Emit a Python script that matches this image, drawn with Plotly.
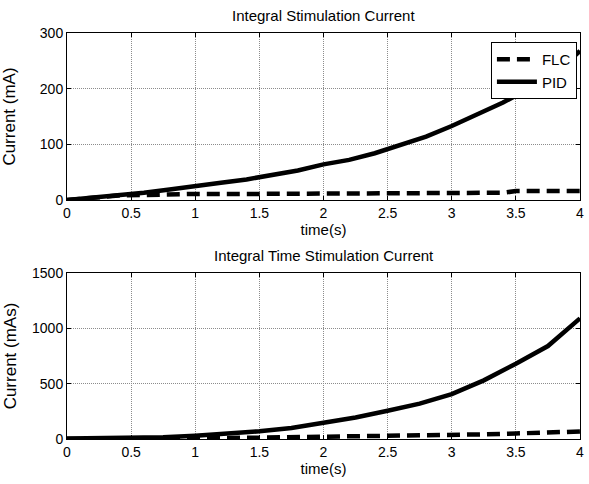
import plotly.graph_objects as go

t_top = [0, 0.2, 0.4, 0.6, 0.8, 1.0, 1.2, 1.4, 1.6, 1.8, 2.0, 2.2, 2.4, 2.6, 2.8, 3.0, 3.2, 3.4, 3.6, 3.8, 4.0]
pid_top = [0, 4, 10, 13, 19, 26, 31, 37, 45, 53, 64, 72, 84, 100, 114, 133, 153, 175, 200, 225, 268]
t_flc_top = [0, 0.2, 0.4, 0.6, 0.8, 1.0, 1.5, 2.0, 2.6, 2.7, 3.4, 3.5, 4.0]
flc_top = [0, 4, 8, 9, 10, 11, 11, 11, 11, 13, 13, 16, 16]

t_bot = [0, 0.25, 0.5, 0.75, 1.0, 1.25, 1.5, 1.75, 2.0, 2.25, 2.5, 2.75, 3.0, 3.25, 3.5, 3.75, 4.0]
pid_bot = [5, 5, 8, 15, 30, 45, 70, 100, 145, 195, 255, 320, 405, 530, 680, 840, 1090]
flc_bot = [0, 0, 2, 5, 8, 10, 12, 15, 18, 22, 26, 30, 36, 42, 50, 58, 68]

x_ticks = [0, 0.5, 1, 1.5, 2, 2.5, 3, 3.5, 4]
x_tick_text = ["0", "0.5", "1", "1.5", "2", "2.5", "3", "3.5", "4"]
y_top_ticks = [0, 100, 200, 300]
y_bot_ticks = [0, 500, 1000, 1500]

FONT = "Liberation Sans, Arial, sans-serif"
DASH = "13px,7px"
LW = 4.5

fig = go.Figure()
fig.add_trace(go.Scatter(x=t_flc_top, y=flc_top, mode="lines", name="FLC",
                         line=dict(color="black", width=LW, dash=DASH), xaxis="x", yaxis="y"))
fig.add_trace(go.Scatter(x=t_top, y=pid_top, mode="lines", name="PID",
                         line=dict(color="black", width=LW), xaxis="x", yaxis="y"))
fig.add_trace(go.Scatter(x=t_bot, y=flc_bot, mode="lines", name="FLC", showlegend=False,
                         line=dict(color="black", width=LW, dash=DASH), xaxis="x2", yaxis="y2"))
fig.add_trace(go.Scatter(x=t_bot, y=pid_bot, mode="lines", name="PID", showlegend=False,
                         line=dict(color="black", width=LW), xaxis="x2", yaxis="y2"))

axis_common = dict(showline=True, linecolor="black", linewidth=1, mirror="ticks",
                   ticks="inside", ticklen=4, tickcolor="black",
                   showgrid=True, gridcolor="#8c8c8c", griddash="1px,1px", gridwidth=1,
                   zeroline=False, tickfont=dict(family=FONT, size=14, color="black"))

top_dom = [(439 - 200) / 406, 1.0]
bot_dom = [0.0, (439 - 273) / 406]

xt = dict(text="time(s)", font=dict(family=FONT, size=15), standoff=1)

fig.update_layout(
    width=589, height=484,
    margin=dict(l=67, r=5, t=33, b=45),
    paper_bgcolor="white", plot_bgcolor="white",
    font=dict(family=FONT, size=14, color="black"),
    xaxis=dict(domain=[0, 1], range=[0, 4], tickvals=x_ticks, ticktext=x_tick_text, anchor="y",
               title=xt, **axis_common),
    yaxis=dict(domain=top_dom, range=[0, 300], tickvals=y_top_ticks, anchor="x",
               title=dict(text="Current (mA)", font=dict(family=FONT, size=17), standoff=21), **axis_common),
    xaxis2=dict(domain=[0, 1], range=[0, 4], tickvals=x_ticks, ticktext=x_tick_text, anchor="y2",
                title=xt, **axis_common),
    yaxis2=dict(domain=bot_dom, range=[0, 1500], tickvals=y_bot_ticks, anchor="x2",
                title=dict(text="Current (mAs)", font=dict(family=FONT, size=17), standoff=11), **axis_common),
    legend=dict(x=0.994, y=0.978, xanchor="right", yanchor="top",
                bgcolor="white", bordercolor="black", borderwidth=1,
                font=dict(family=FONT, size=15, color="black"), tracegroupgap=0,
                itemwidth=40),
    showlegend=True,
    annotations=[
        dict(text="Integral Stimulation Current", x=0.5, y=1.0, xref="paper", yref="paper",
             xanchor="center", yanchor="bottom", yshift=7, showarrow=False,
             font=dict(family=FONT, size=15, color="black")),
        dict(text="Integral Time Stimulation Current", x=0.5, y=bot_dom[1], xref="paper", yref="paper",
             xanchor="center", yanchor="bottom", yshift=7, showarrow=False,
             font=dict(family=FONT, size=15, color="black")),
    ],
)

fig.write_html("out.html")
